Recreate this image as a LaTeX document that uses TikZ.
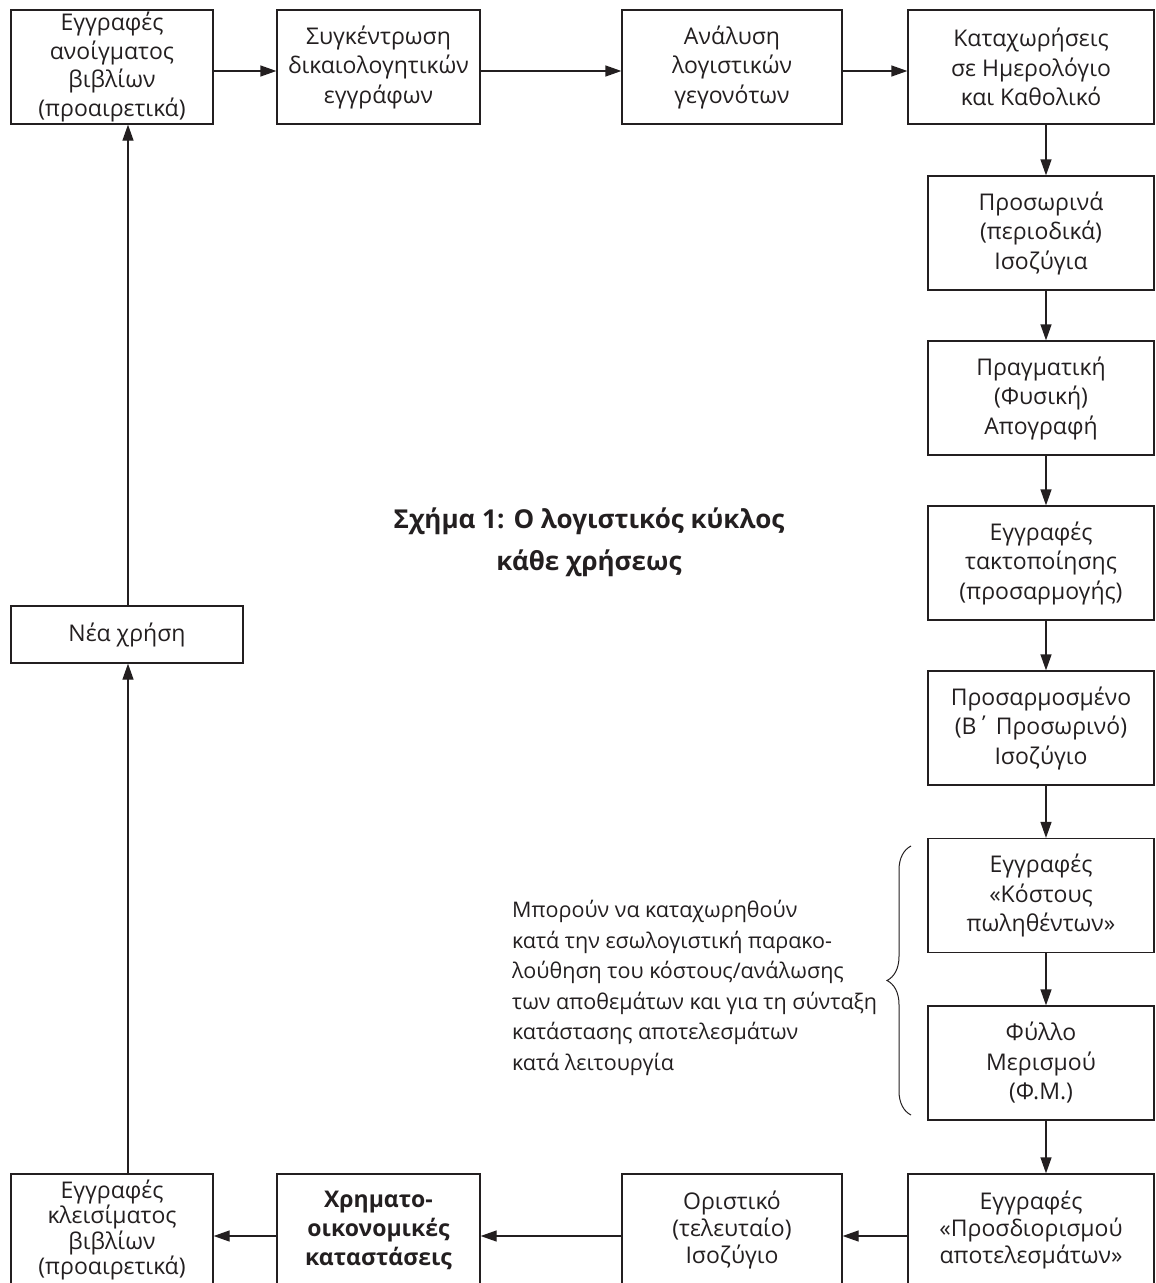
\documentclass[tikz,border=0pt]{standalone}
\usepackage{fontspec}
\setmainfont{Open Sans}
\usetikzlibrary{arrows.meta,decorations.pathreplacing}
\definecolor{ink}{HTML}{231F20}
\begin{document}
\begin{tikzpicture}[x=1pt,y=-1pt,
  box/.style={draw=ink, line width=1.3pt, inner sep=0pt, align=center, text=ink,
              font=\fontsize{23}{29.5}\selectfont},
  toprow/.style={box, minimum height=114pt},
  colbox/.style={box, minimum width=226pt, minimum height=114pt},
  botrow/.style={box, minimum height=112pt, font=\fontsize{23}{27}\selectfont},
  arr/.style={draw=ink, line width=1.3pt, -{Triangle[length=16pt,width=11pt]}},
]
\useasboundingbox (0,0) rectangle (1156,1283);

% top row
\node[toprow, minimum width=202pt, font=\fontsize{23}{28.5}\selectfont] (a1) at (112,67) {Εγγραφές\\ανοίγματος\\βιβλίων\\(προαιρετικά)};
\node[toprow, minimum width=203pt] (a2) at (378.5,67) {Συγκέντρωση\\δικαιολογητικών\\εγγράφων};
\node[toprow, minimum width=220pt] (a3) at (732,67) {Ανάλυση\\λογιστικών\\γεγονότων};
\node[toprow, minimum width=246pt] (a4) at (1031,67) {Καταχωρήσεις\\σε Ημερολόγιο\\και Καθολικό};

% right column
\node[colbox] (r1) at (1041,233) {Προσωρινά\\(περιοδικά)\\Ισοζύγια};
\node[colbox] (r2) at (1041,398) {Πραγματική\\(Φυσική)\\Απογραφή};
\node[colbox] (r3) at (1041,563) {Εγγραφές\\τακτοποίησης\\(προσαρμογής)};
\node[colbox] (r4) at (1041,728) {Προσαρμοσμένο\\(Β΄ Προσωρινό)\\Ισοζύγιο};
\node[colbox] (r5) at (1041,895.5) {Εγγραφές\\«Κόστους\\πωληθέντων»};
\node[colbox] (r6) at (1041,1063) {Φύλλο\\Μερισμού\\(Φ.Μ.)};

% bottom row
\node[botrow, minimum width=202pt, font=\fontsize{23}{25.5}\selectfont] (b1) at (112,1230) {Εγγραφές\\κλεισίματος\\βιβλίων\\(προαιρετικά)};
\node[botrow, minimum width=203pt, font=\bfseries\fontsize{23}{29}\selectfont] (b2) at (378.5,1230) {Χρηματο-\\οικονομικές\\καταστάσεις};
\node[botrow, minimum width=220pt] (b3) at (732,1230) {Οριστικό\\(τελευταίο)\\Ισοζύγιο};
\node[botrow, minimum width=246pt] (b4) at (1031,1230) {Εγγραφές\\«Προσδιορισμού\\αποτελεσμάτων»};

% left column
\node[box, minimum width=232pt, minimum height=57pt] (n) at (127,634.5) {Νέα χρήση};

% title
\node[text=ink, align=center, font=\bfseries\fontsize{26}{42}\selectfont] (title) at (589,542)
  {Σχήμα 1: Ο λογιστικός κύκλος\\κάθε χρήσεως};

% note
\node[text=ink, align=left, anchor=west, inner sep=0pt, font=\fontsize{21.5}{30.5}\selectfont] (note) at (512,988)
  {Μπορούν να καταχωρηθούν\\κατά την εσωλογιστική παρακο-\\λούθηση του κόστους/ανάλωσης\\των αποθεμάτων και για τη σύνταξη\\κατάστασης αποτελεσμάτων\\κατά λειτουργία};

% brace
\coordinate (bb) at (911,1115);
\coordinate (bt) at (911,846);
\draw[ink, line width=1pt, decorate, decoration={brace, amplitude=24pt}] (bb) -- (bt);

% connectors
\coordinate (cx) at (1046,0);
\coordinate (lx) at (128,0);
\draw[arr] ([yshift=-4pt]a1.east) -- ([yshift=-4pt]a2.west);
\draw[arr] ([yshift=-4pt]a2.east) -- ([yshift=-4pt]a3.west);
\draw[arr] ([yshift=-4pt]a3.east) -- ([yshift=-4pt]a4.west);
\draw[arr] (a4.south -| cx) -- (r1.north -| cx);
\draw[arr] (r1.south -| cx) -- (r2.north -| cx);
\draw[arr] (r2.south -| cx) -- (r3.north -| cx);
\draw[arr] (r3.south -| cx) -- (r4.north -| cx);
\draw[arr] (r4.south -| cx) -- (r5.north -| cx);
\draw[arr] (r5.south -| cx) -- (r6.north -| cx);
\draw[arr] (r6.south -| cx) -- (b4.north -| cx);
\draw[arr] ([yshift=-6pt]b4.west) -- ([yshift=-6pt]b3.east);
\draw[arr] ([yshift=-6pt]b3.west) -- ([yshift=-6pt]b2.east);
\draw[arr] ([yshift=-6pt]b2.west) -- ([yshift=-6pt]b1.east);
\draw[arr] (b1.north -| lx) -- (n.south -| lx);
\draw[arr] (n.north -| lx) -- (a1.south -| lx);
\end{tikzpicture}
\end{document}
